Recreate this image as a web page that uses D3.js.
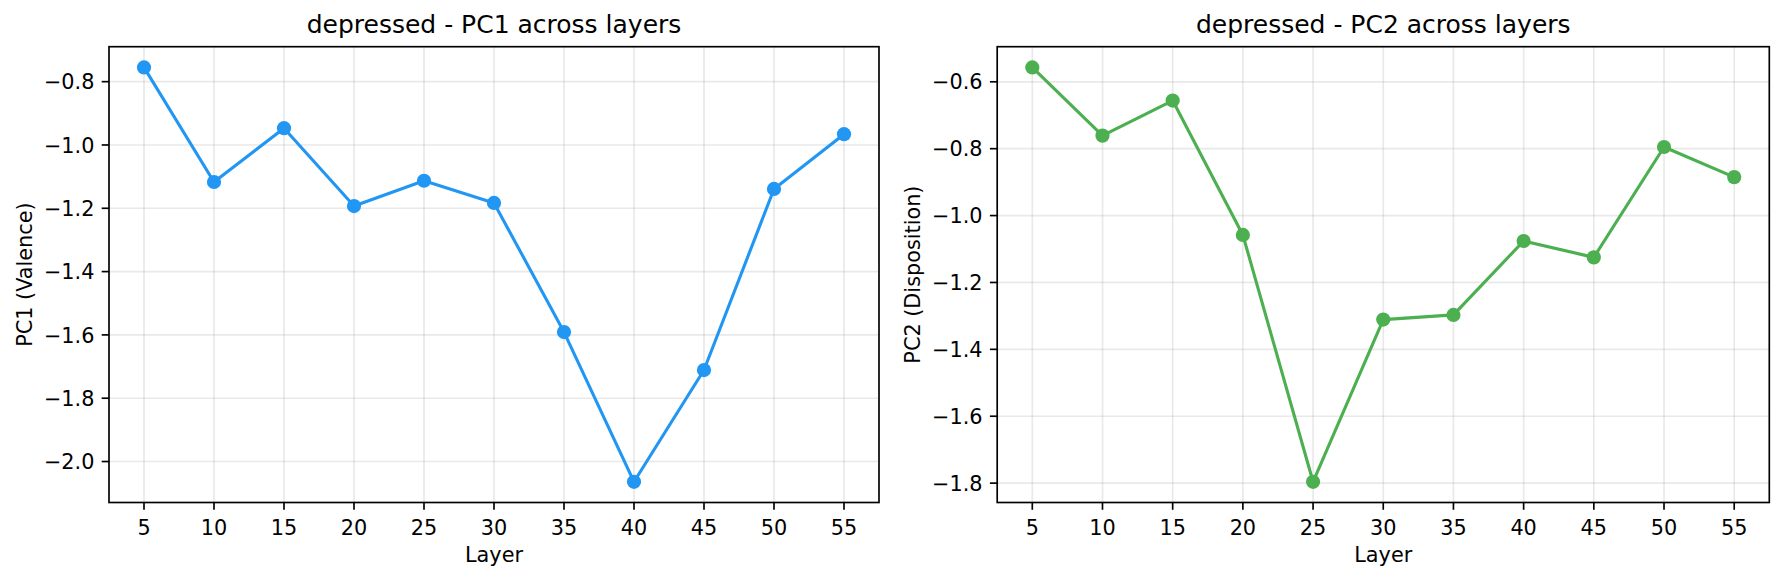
<!DOCTYPE html>
<html>
<head>
<meta charset="utf-8">
<script src="https://cdn.jsdelivr.net/npm/d3@7"></script>
<style>
  html, body { margin: 0; padding: 0; background: #fff; }
  svg { display: block; font-family: "DejaVu Sans", sans-serif; }
</style>
</head>
<body>
<svg id="chart" width="1784" height="581"></svg>
<script>
// ---- Data ----
const layers = [5, 10, 15, 20, 25, 30, 35, 40, 45, 50, 55];
const pc1Values = [-0.755, -1.117, -0.947, -1.193, -1.113, -1.183, -1.591, -2.064, -1.711, -1.139, -0.966];
const pc2Values = [-0.557, -0.761, -0.656, -1.058, -1.796, -1.311, -1.297, -1.076, -1.125, -0.795, -0.885];
const xTicks = [5, 10, 15, 20, 25, 30, 35, 40, 45, 50, 55];
const pc1Ticks = [-0.8, -1.0, -1.2, -1.4, -1.6, -1.8, -2.0];
const pc2Ticks = [-0.6, -0.8, -1.0, -1.2, -1.4, -1.6, -1.8];
const titles = ["depressed - PC1 across layers", "depressed - PC2 across layers"];
const yLabels = ["PC1 (Valence)", "PC2 (Disposition)"];
const xLabel = "Layer";
const colors = ["#2196F3", "#4CAF50"];

(function () {
const svg = d3.select("#chart");
const plotTop = 46.7, plotBottom = 502.5;
const panels = [
  { left: 109, right: 879, values: pc1Values, ticks: pc1Ticks, ylabX: 31.5 },
  { left: 997.2, right: 1769.3, values: pc2Values, ticks: pc2Ticks, ylabX: 919.5 }
];
const fmt = d3.format(".1f");
const tickFont = 20.8, labelFont = 20.8, titleFont = 25;
const tickLen = 7.3, pad = 7.3;

panels.forEach((p, i) => {
  const ext = d3.extent(p.values);
  const m = (ext[1] - ext[0]) * 0.05;
  const x = d3.scaleLinear().domain([2.5, 57.5]).range([p.left, p.right]);
  const y = d3.scaleLinear().domain([ext[0] - m, ext[1] + m]).range([plotBottom, plotTop]);
  const g = svg.append("g");

  // grid
  g.append("g").selectAll("line").data(xTicks).join("line")
    .attr("x1", d => x(d)).attr("x2", d => x(d)).attr("y1", plotTop).attr("y2", plotBottom)
    .attr("stroke", "#b0b0b0").attr("stroke-opacity", 0.28).attr("stroke-width", 1.67);
  g.append("g").selectAll("line").data(p.ticks).join("line")
    .attr("y1", d => y(d)).attr("y2", d => y(d)).attr("x1", p.left).attr("x2", p.right)
    .attr("stroke", "#b0b0b0").attr("stroke-opacity", 0.28).attr("stroke-width", 1.67);

  // line
  const line = d3.line().x((d, j) => x(layers[j])).y(d => y(d));
  g.append("path").datum(p.values).attr("d", line)
    .attr("fill", "none").attr("stroke", colors[i]).attr("stroke-width", 3.1)
    .attr("stroke-linejoin", "round").attr("stroke-linecap", "round");
  g.append("g").selectAll("circle").data(p.values).join("circle")
    .attr("cx", (d, j) => x(layers[j])).attr("cy", d => y(d)).attr("r", 7.1)
    .attr("fill", colors[i]);

  // spines
  g.append("rect").attr("x", p.left).attr("y", plotTop)
    .attr("width", p.right - p.left).attr("height", plotBottom - plotTop)
    .attr("fill", "none").attr("stroke", "#000").attr("stroke-width", 1.67);

  // x ticks
  const xt = g.append("g").selectAll("g").data(xTicks).join("g");
  xt.append("line").attr("x1", d => x(d)).attr("x2", d => x(d))
    .attr("y1", plotBottom).attr("y2", plotBottom + tickLen).attr("stroke", "#000").attr("stroke-width", 1.67);
  xt.append("text").attr("x", d => x(d)).attr("y", 535)
    .attr("text-anchor", "middle").attr("font-size", tickFont).attr("fill", "#000")
    .text(d => d);

  // y ticks
  const yt = g.append("g").selectAll("g").data(p.ticks).join("g");
  yt.append("line").attr("x1", p.left - tickLen).attr("x2", p.left)
    .attr("y1", d => y(d)).attr("y2", d => y(d)).attr("stroke", "#000").attr("stroke-width", 1.67);
  yt.append("text").attr("x", p.left - tickLen - pad).attr("y", d => y(d) + 7.6)
    .attr("text-anchor", "end").attr("font-size", tickFont).attr("fill", "#000")
    .text(d => fmt(d));

  // labels
  g.append("text").attr("x", (p.left + p.right) / 2).attr("y", 561.7)
    .attr("text-anchor", "middle").attr("font-size", labelFont).attr("fill", "#000").text(xLabel);
  g.append("text")
    .attr("transform", `translate(${p.ylabX},${(plotTop + plotBottom) / 2}) rotate(-90)`)
    .attr("text-anchor", "middle").attr("font-size", labelFont).attr("fill", "#000").text(yLabels[i]);
  g.append("text").attr("x", (p.left + p.right) / 2).attr("y", 33.3)
    .attr("text-anchor", "middle").attr("font-size", titleFont).attr("fill", "#000").text(titles[i]);
});
})();
</script>
</body>
</html>
